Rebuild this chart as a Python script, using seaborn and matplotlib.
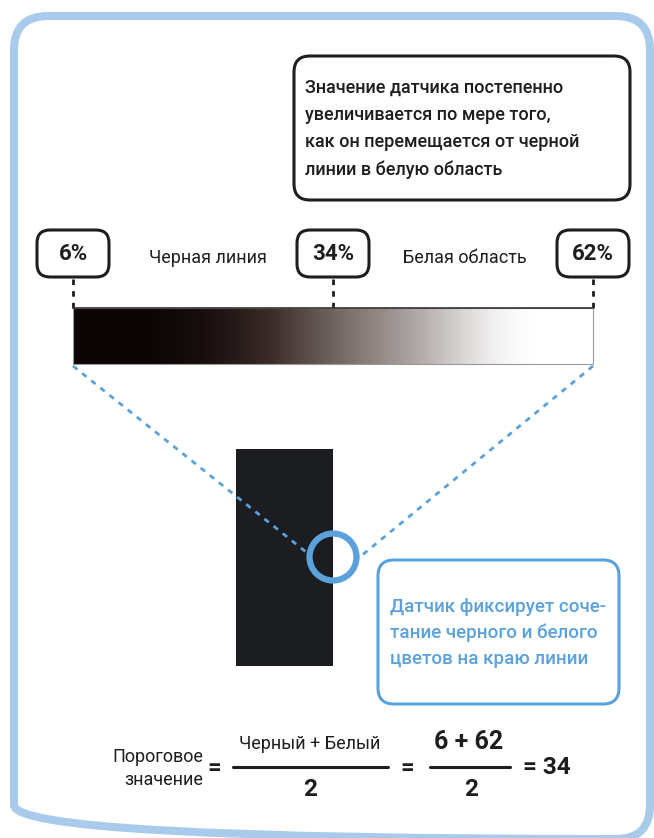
import numpy as np
import matplotlib
matplotlib.use("Agg")
import matplotlib.pyplot as plt
import seaborn as sns
from matplotlib.patches import FancyBboxPatch, Rectangle, Circle
from matplotlib.colors import LinearSegmentedColormap

# readings of the sensor (%)
readings = [6, 34, 62]
reading_labels = ["6%", "34%", "62%"]
zone_labels = ["Черная линия", "Белая область"]
# sensor level, left to right
bar_levels = [6, 6, 10, 21, 31, 41, 52, 62, 62]
top_note = ("Значение датчика постепенно\nувеличивается по мере того,\n"
            "как он перемещается от черной\nлинии в белую область")
blue_note = "Датчик фиксирует соче-\nтание черного и белого\nцветов на краю линии"

sns.set_theme(style="white")
plt.rcParams["font.family"] = ["Roboto", "DejaVu Sans"]

BLUE = "#5ba1db"
LIGHT_BLUE = "#a9cbeb"
INK = "#1e1e1e"

fig = plt.figure(figsize=(6.54, 8.38), dpi=100)
ax = fig.add_axes([0, 0, 1, 1])
ax.set_xlim(0, 654)
ax.set_ylim(838, 0)
ax.axis("off")

def rbox(x0, y0, x1, y1, r, color, lw):
    ax.add_patch(FancyBboxPatch((x0 + r, y0 + r), x1 - x0 - 2 * r, y1 - y0 - 2 * r,
                                boxstyle=f"round,pad={r}", fc="none", ec=color, lw=lw))

# outer frame
rbox(14, 16, 650, 839, 34, LIGHT_BLUE, 5.8)

# top note
rbox(294, 56, 630, 200, 16, INK, 2.2)
ax.text(305, 129, top_note, fontsize=13, fontweight="medium", color=INK,
        va="center", ha="left", linespacing=1.65)

# reading boxes along the bar
bar_x0, bar_x1 = 73, 593
xs = [bar_x0 + (v - readings[0]) / (readings[-1] - readings[0]) * (bar_x1 - bar_x0) for v in readings]
for x, lab in zip(xs, reading_labels):
    rbox(x - 36, 230, x + 36, 277, 13, INK, 2.2)
    ax.text(x, 254, lab, fontsize=16, fontweight="bold", color=INK, ha="center", va="center")
    ax.plot([x, x], [279, 308], ls=(0, (2, 2.2)), color=INK, lw=2)
for xc, lab in zip([208, 465], zone_labels):
    ax.text(xc, 258, lab, fontsize=13, color=INK, ha="center", va="center")

# gradient bar
cmap = LinearSegmentedColormap.from_list(
    "bw", ["#0d0505", "#3b2c2a", "#7d7270", "#b8b2b0", "#ffffff"])
ax.imshow(np.array([bar_levels]), cmap=cmap, vmin=readings[0], vmax=readings[-1],
          extent=[bar_x0, bar_x1, 364, 308], aspect="auto", interpolation="bicubic", zorder=2)
ax.add_patch(Rectangle((bar_x0, 308), bar_x1 - bar_x0, 56, fc="none", ec="#9a9a9a", lw=0.8, zorder=3))
ax.plot([bar_x0, bar_x1], [308, 308], color="#333333", lw=1.2, zorder=3)

# black line and sensor
ax.add_patch(Rectangle((236, 449), 97, 217, fc="#1c1d21", ec="none", zorder=2))
ax.plot([bar_x0, 306], [366, 552], ls=(0, (2, 2.2)), color=BLUE, lw=2, zorder=3)
ax.plot([bar_x1, 361], [366, 556], ls=(0, (2, 2.2)), color=BLUE, lw=2, zorder=3)
ax.add_patch(Circle((333, 557), 23.5, fc="none", ec=BLUE, lw=4.5, zorder=4))

# blue note
rbox(378, 560, 619, 704, 16, BLUE, 2.2)
ax.text(390, 633, blue_note, fontsize=13.5, fontweight="medium", color=BLUE,
        ha="left", va="center", linespacing=1.55)

# formula
ax.text(203, 757, "Пороговое", fontsize=13, color=INK, ha="right", va="center")
ax.text(203, 780, "значение", fontsize=13, color=INK, ha="right", va="center")
ax.text(214, 768, "=", fontsize=17, fontweight="bold", color=INK, ha="center", va="center")
ax.plot([233, 388], [767, 767], color=INK, lw=2.2)
ax.text(310, 744, "Черный + Белый", fontsize=13, color=INK, ha="center", va="center")
ax.text(310, 789, "2", fontsize=17.5, fontweight="bold", color=INK, ha="center", va="center")
ax.text(407, 768, "=", fontsize=17, fontweight="bold", color=INK, ha="center", va="center")
ax.plot([430, 510], [767, 767], color=INK, lw=2.2)
ax.text(469, 742, f"{readings[0]} + {readings[2]}", fontsize=18, fontweight="bold",
        color=INK, ha="center", va="center")
ax.text(471, 789, "2", fontsize=17.5, fontweight="bold", color=INK, ha="center", va="center")
ax.text(523, 767, f"= {(readings[0] + readings[2]) // 2}", fontsize=17.5, fontweight="bold",
        color=INK, ha="left", va="center")

fig.savefig("out.png", dpi=100)
